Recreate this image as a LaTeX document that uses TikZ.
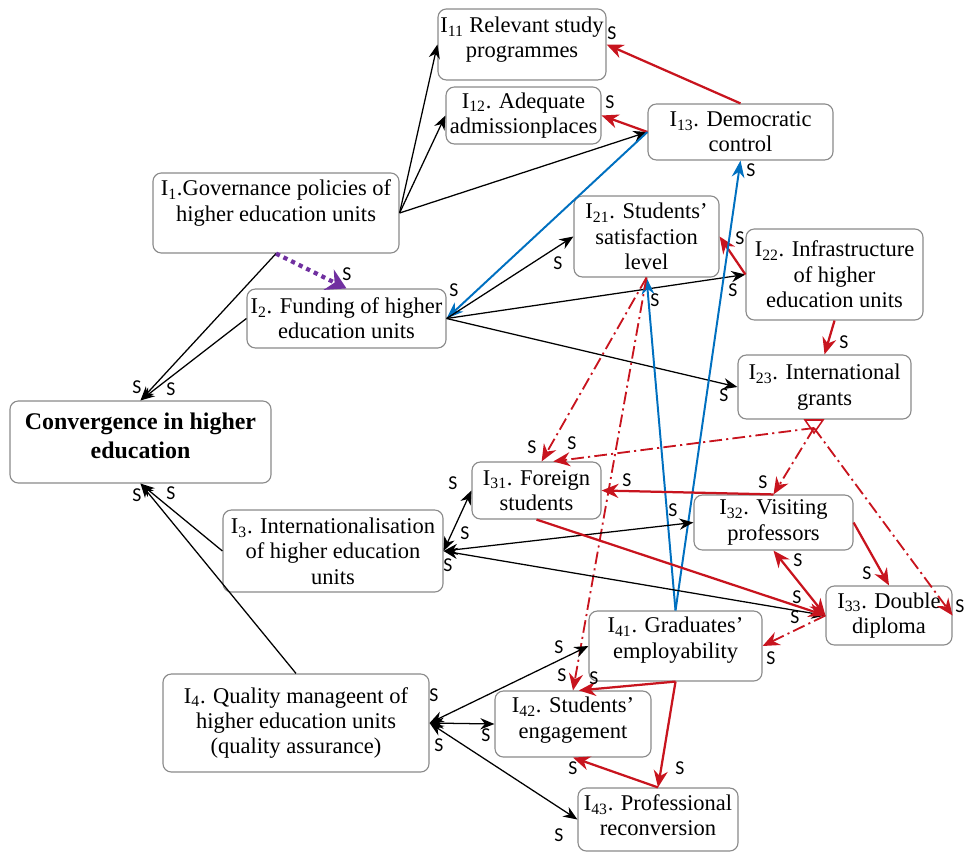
\documentclass[tikz,border=0pt]{standalone}
\usepackage{fontspec}
\setmainfont{Liberation Serif}
\newfontfamily\signfont{Carlito}
\usetikzlibrary{calc, arrows.meta}
\definecolor{color_text}{HTML}{000000}
\definecolor{color_frame}{HTML}{8A8A8A}
\definecolor{color_red}{HTML}{C8141E}
\definecolor{color_blue}{HTML}{0070C0}
\definecolor{color_purple}{HTML}{7030A0}
\tikzset{
  indicator_box/.style={draw=color_frame, line width=0.8pt, rounded corners=6pt, fill=white, align=center, inner sep=1pt, text=color_text, font=\fontsize{16}{18}\selectfont},
  goal_box/.style={indicator_box, font=\fontsize{17}{20.5}\selectfont\bfseries},
  link_arrow/.style={-{Stealth[length=10pt, width=8pt]}, draw=color_text, line width=0.9pt},
  link_both/.style={link_arrow, {Stealth[length=10pt, width=8pt]}-{Stealth[length=10pt, width=8pt]}},
  red_arrow/.style={-{Stealth[length=12pt, width=10pt]}, draw=color_red, line width=1.6pt},
  red_both/.style={red_arrow, {Stealth[length=12pt, width=10pt]}-{Stealth[length=12pt, width=10pt]}},
  red_dashdot/.style={red_arrow, line width=1.3pt, dash pattern=on 9pt off 3pt on 1.5pt off 3pt},
  blue_arrow/.style={-{Stealth[length=12pt, width=9pt]}, draw=color_blue, line width=1.4pt},
  purple_arrow/.style={-{Stealth[length=14pt, width=16pt]}, draw=color_purple, line width=3pt, dash pattern=on 3pt off 3pt},
  sign_label/.style={font=\signfont\fontsize{14}{14}\selectfont, text=color_text, inner sep=0pt},
}

\begin{document}
\begin{tikzpicture}[x=0.025cm, y=-0.025cm]
  \useasboundingbox (0,0) rectangle (964,852);
  % goal and first level
  \node[goal_box, minimum width=6.525cm, minimum height=2.05cm, text depth=8.5pt] (conv) at (140.5,442) {Convergence in higher\\education};
  \node[indicator_box, minimum width=6.15cm, minimum height=2cm, text depth=17.7pt] (i1) at (276,213) {I\textsubscript{1}.Governance policies of\\higher education units};
  \node[indicator_box, minimum width=4.975cm, minimum height=1.475cm] (i2) at (346.5,318.5) {I\textsubscript{2}. Funding of higher\\education units};
  \node[indicator_box, minimum width=5.5cm, minimum height=2.05cm] (i3) at (333,551) {I\textsubscript{3}. Internationalisation\\of higher education\\units};
  \node[indicator_box, minimum width=6.65cm, minimum height=2.45cm] (i4) at (296,723) {I\textsubscript{4}. Quality manageent of\\higher education units\\(quality assurance)};
  % governance indicators
  \node[indicator_box, minimum width=4.2cm, minimum height=1.775cm, text depth=10pt] (i11) at (522,44.5) {I\textsubscript{11} Relevant study\\programmes};
  \node[indicator_box, minimum width=3.875cm, minimum height=1.425cm] (i12) at (523.5,115.5) {I\textsubscript{12}. Adequate\\admissionplaces};
  \node[indicator_box, minimum width=4.625cm, minimum height=1.4cm] (i13) at (740.5,132) {I\textsubscript{13}. Democratic\\control};
  % funding indicators
  \node[indicator_box, minimum width=3.625cm, minimum height=2.025cm] (i21) at (646.5,236.5) {I\textsubscript{21}. Students’\\satisfaction\\level};
  \node[indicator_box, minimum width=4.425cm, minimum height=2.275cm] (i22) at (834.5,274.5) {I\textsubscript{22}. Infrastructure\\of higher\\education units};
  \node[indicator_box, minimum width=4.325cm, minimum height=1.6cm] (i23) at (824.5,387) {I\textsubscript{23}. International\\grants};
  % internationalisation indicators
  \node[indicator_box, minimum width=3.225cm, minimum height=1.425cm] (i31) at (536.5,490.5) {I\textsubscript{31}. Foreign\\students};
  \node[indicator_box, minimum width=3.975cm, minimum height=1.375cm] (i32) at (773.5,522.5) {I\textsubscript{32}. Visiting\\professors};
  \node[indicator_box, minimum width=3.15cm, minimum height=1.475cm] (i33) at (889,615.5) {I\textsubscript{33}. Double\\diploma};
  % quality indicators
  \node[indicator_box, minimum width=4.325cm, minimum height=1.75cm, text depth=12pt] (i41) at (675.5,646) {I\textsubscript{41}. Graduates’\\employability};
  \node[indicator_box, minimum width=3.9cm, minimum height=1.65cm, text depth=9pt] (i42) at (573,724) {I\textsubscript{42}. Students’\\engagement};
  \node[indicator_box, minimum width=4cm, minimum height=1.575cm, text depth=6pt] (i43) at (658,819.5) {I\textsubscript{43}. Professional\\reconversion};

  % links to the goal
  \draw[link_arrow] (i1.south) -- (conv.north);
  \draw[link_arrow] (i2.west) -- (conv.north);
  \draw[link_arrow] (i3.west) -- (conv.south);
  \draw[link_arrow] (i4.north) -- (conv.south);
  \draw[purple_arrow] (i1.south) -- (i2.north);
  % governance links
  \draw[link_arrow] (i1.east) -- (i11.west);
  \draw[link_arrow] (i1.east) -- (i12.west);
  \draw[link_arrow] (i1.east) -- (i13.west);
  \draw[red_arrow] (i13.north) -- (i11.east);
  \draw[red_arrow] (i13.west) -- (i12.east);
  \draw[blue_arrow] (i13.west) -- (i2.east);
  % funding links
  \draw[link_arrow] (i2.east) -- (i21.west);
  \draw[link_arrow] (i2.east) -- (i22.west);
  \draw[link_arrow] (i2.east) -- (i23.west);
  \draw[red_arrow] (i22.west) -- (i21.east);
  \draw[red_arrow] (i22.south) -- (i23.north);
  \draw[blue_arrow] (i41.north) -- (i21.south);
  \draw[blue_arrow] (i41.north) -- (i13.south);
  \draw[red_dashdot] (i21.south) -- (i31.80);
  \draw[red_dashdot] (i21.south) -- (i42.north);
  % grants fork
  \coordinate (grants_fork) at (814,428);
  \draw[color_red, line width=1.1pt] (805,420) -- (823,420) -- (814,433) -- cycle;
  \draw[red_dashdot] (grants_fork) -- (i31.60);
  \draw[red_dashdot] (grants_fork) -- (i32.north);
  \draw[red_dashdot] (grants_fork) -- (i33.east);
  % internationalisation links
  \draw[link_both] (i3.east) -- (i31.west);
  \draw[link_both] (i3.east) -- (i32.west);
  \draw[link_both] (i3.east) -- (i33.west);
  \draw[red_arrow] (i32.north) -- (i31.east);
  \draw[red_arrow] (i31.south) -- (i33.west);
  \draw[red_both] (i32.south) -- (i33.west);
  \draw[red_arrow] (i32.east) -- (i33.north);
  \draw[red_dashdot] (i33.west) -- (i41.east);
  % quality links
  \draw[link_both] (i4.east) -- (i41.west);
  \draw[link_both] (i4.east) -- (i42.west);
  \draw[link_both] (i4.east) -- (i43.west);
  \draw[red_arrow] (i41.south) -- (i42.80);
  \draw[red_arrow] (i41.south) -- (i43.north);
  \draw[red_arrow] (i43.north) -- (i42.south);

  % sign labels
  \foreach \px/\py [count=\k] in {612/33, 610/102, 347/274, 137/387, 171/389, 454/290, 558/263, 733/290,
      724/395, 740/238, 751/170, 655/300, 844/342, 532/447, 572/443, 627/480, 453/483, 465/533,
      673/510, 448/565, 137/495, 171/493, 763/482, 960/606, 798/560, 867/573, 797/597, 795/617,
      771/658, 559/647, 434/695, 439/745, 486/735, 559/835, 562/675, 594/678, 680/768, 573/768}
    \node[sign_label] (sign\k) at (\px,\py) {S};
\end{tikzpicture}
\end{document}
